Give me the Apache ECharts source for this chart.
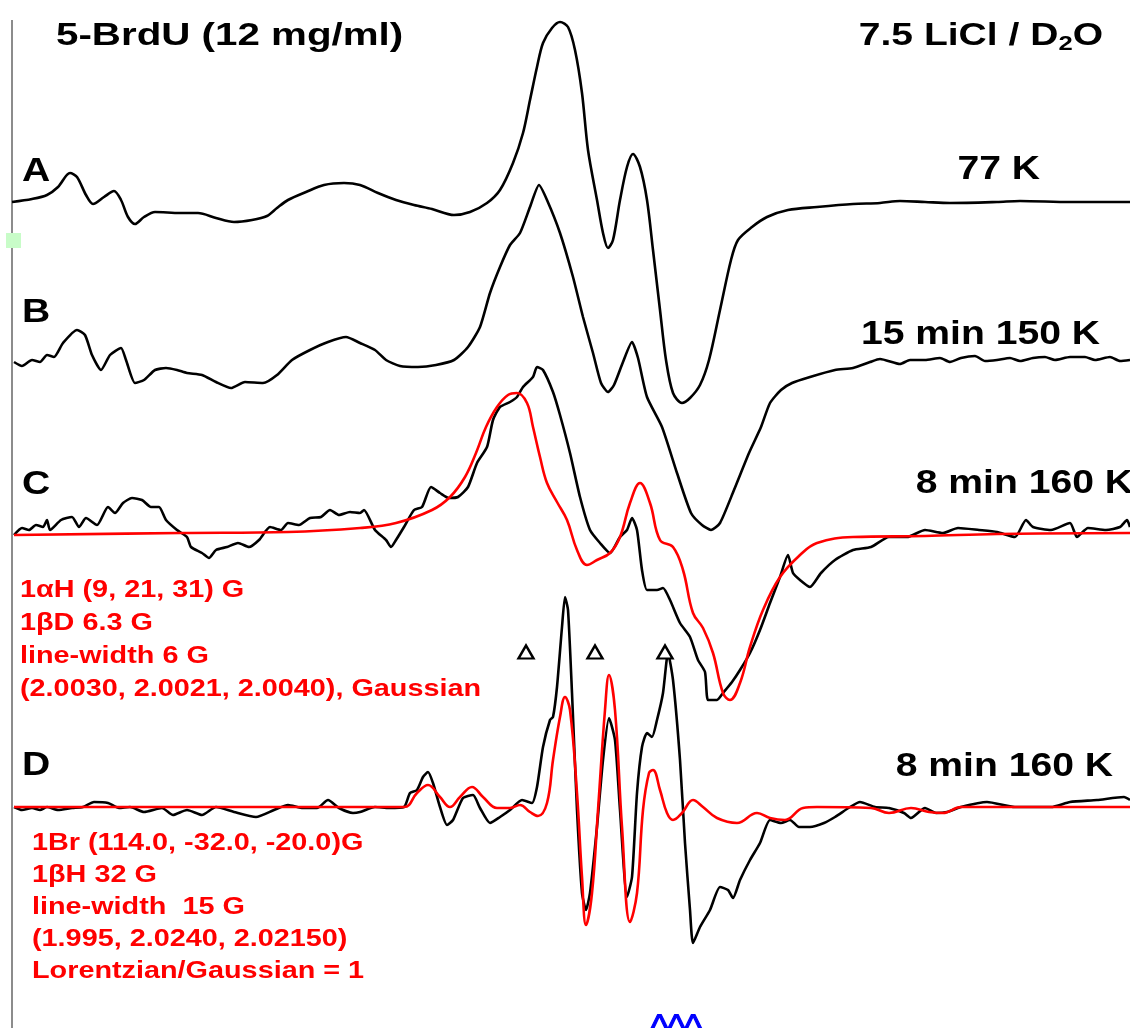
<!DOCTYPE html>
<html>
<head>
<meta charset="utf-8">
<script src="https://cdn.jsdelivr.net/npm/echarts@6/dist/echarts.min.js"></script>
<style>
    html, body {margin: 0; padding: 0; background: #fff;}
    #spectra_chart {width: 1130px; height: 1028px;}
</style>
</head>
<body>
<div id="spectra_chart"></div>
<script>
// field position (arb.) / signal above each spectrum's own baseline
var traceA = [[12,0],[32,3],[47,7],[58,15],[70,29],[77,25],[86,7],[93,-2],[104,5],[114,11],[121,2],[128,-15],[135,-22],[144,-15],[155,-10],[180,-11],[198,-11],[216,-16],[234,-20],[252,-18],[267,-14],[277,-6],[288,2],[306,10],[324,17],[344,19],[360,17],[378,9],[396,2],[414,-3],[432,-7],[454,-13],[470,-10],[487,-1],[500,12],[513,39],[523,69],[530,102],[537,135],[543,159],[552,174],[560,180],[568,175],[575,152],[582,109],[588,52],[597,2],[603,-31],[608,-46],[613,-38],[620,2],[627,35],[633,48],[640,35],[647,2],[653,-48],[660,-108],[666,-158],[673,-191],[682,-201],[690,-196],[700,-183],[709,-158],[720,-108],[731,-58],[738,-38],[752,-25],[767,-15],[788,-8],[817,-5],[853,-2],[880,-1],[900,1],[925,0],[950,-1],[997,0],[1020,1],[1070,0],[1100,0],[1130,0]];
var traceB = [[14,-2],[22,-6],[32,0],[40,-2],[47,5],[54,3],[63,17],[77,30],[85,25],[92,5],[101,-10],[110,5],[121,12],[126,0],[135,-23],[144,-20],[155,-10],[166,-8],[177,-10],[187,-13],[202,-15],[216,-22],[231,-28],[245,-22],[263,-23],[277,-15],[292,0],[310,10],[328,18],[346,23],[360,17],[375,10],[386,0],[400,-6],[418,-7],[436,-5],[454,0],[468,13],[480,33],[490,67],[500,93],[510,115],[520,127],[530,153],[539,175],[547,160],[560,127],[573,83],[583,43],[593,7],[601,-23],[608,-32],[614,-25],[623,-2],[632,18],[638,2],[647,-37],[662,-67],[677,-113],[691,-153],[702,-165],[711,-170],[720,-163],[734,-130],[749,-93],[761,-67],[770,-43],[781,-30],[792,-23],[810,-17],[835,-10],[853,-8],[870,-2],[880,1],[900,-4],[910,0],[925,0],[940,2],[950,-2],[961,2],[975,4],[985,-1],[997,0],[1010,2],[1020,-1],[1033,2],[1045,3],[1055,0],[1070,3],[1085,3],[1095,0],[1110,3],[1120,-1],[1130,0]];
var traceC = [[14,0],[22,7],[29,5],[36,10],[43,8],[47,15],[50,5],[61,15],[72,18],[79,8],[86,17],[97,10],[108,28],[115,22],[123,32],[132,37],[142,35],[151,28],[159,28],[166,15],[177,5],[187,-2],[191,-12],[202,-18],[209,-23],[216,-15],[227,-12],[238,-8],[249,-12],[259,-5],[270,8],[281,5],[288,12],[299,10],[310,17],[321,18],[330,25],[339,20],[350,23],[360,22],[364,25],[375,5],[386,-5],[391,-12],[396,-5],[404,8],[414,25],[422,28],[431,48],[440,42],[449,37],[458,38],[468,48],[477,72],[487,88],[493,115],[500,128],[510,133],[517,138],[523,148],[533,158],[537,168],[543,165],[553,143],[560,120],[570,82],[580,38],[590,5],[600,-8],[610,-18],[620,-2],[627,5],[632,17],[637,5],[642,-35],[647,-55],[657,-55],[663,-53],[670,-65],[680,-88],[690,-102],[698,-125],[705,-137],[708,-165],[717,-165],[723,-158],[732,-147],[740,-135],[750,-118],[760,-95],[770,-68],[780,-42],[788,-20],[793,-38],[800,-45],[810,-52],[821,-38],[835,-25],[853,-15],[871,-12],[889,-2],[907,-2],[925,5],[943,2],[958,7],[979,5],[997,3],[1015,-2],[1026,15],[1033,8],[1051,5],[1070,12],[1077,-2],[1088,7],[1106,5],[1120,8],[1127,15],[1130,8]];
var fitC = [[14,0],[180,2],[288,3],[360,7],[396,12],[432,25],[450,38],[465,58],[476,82],[486,108],[497,128],[508,140],[517,142],[527,132],[533,108],[540,78],[547,52],[557,33],[567,15],[577,-15],[587,-30],[597,-25],[610,-18],[620,-2],[630,32],[640,52],[650,32],[660,-5],[673,-12],[683,-35],[693,-78],[703,-93],[713,-118],[723,-158],[730,-165],[740,-148],[750,-112],[763,-75],[780,-42],[800,-20],[817,-8],[853,-2],[925,-1],[997,1],[1130,2]];
var traceD = [[14,0],[22,-3],[32,-1],[40,-3],[47,0],[58,-3],[72,-1],[83,0],[94,5],[108,4],[119,-1],[130,0],[144,-5],[162,-1],[173,-8],[187,-3],[202,-8],[216,0],[234,-5],[256,-10],[274,-3],[288,2],[303,-1],[317,-1],[328,7],[339,-1],[353,-6],[360,-5],[375,0],[389,-1],[404,0],[410,14],[417,17],[423,30],[428,35],[433,24],[440,0],[447,-18],[453,-13],[463,9],[473,12],[480,-1],[490,-16],[500,-10],[510,-3],[522,7],[532,4],[537,20],[543,60],[550,87],[553,90],[557,120],[562,180],[565,210],[568,197],[572,114],[577,-3],[582,-86],[586,-103],[590,-86],[597,-20],[603,47],[609,89],[615,67],[620,-3],[627,-90],[632,-70],[637,14],[642,60],[647,74],[652,70],[657,87],[663,114],[668,154],[673,127],[680,47],[685,-36],[690,-103],[693,-136],[700,-120],[710,-103],[720,-80],[728,-83],[733,-91],[740,-73],[750,-53],[760,-36],[770,-13],[781,-16],[790,-13],[799,-20],[810,-20],[824,-16],[835,-10],[850,0],[860,5],[875,0],[889,-1],[904,-6],[911,-11],[925,-1],[936,-6],[947,-5],[961,0],[987,5],[1015,0],[1051,0],[1070,5],[1097,7],[1124,10],[1130,7]];
var fitD = [[14,0],[404,0],[417,14],[428,22],[440,10],[450,0],[460,10],[472,20],[483,10],[497,-1],[510,-1],[520,2],[530,-5],[538,-9],[547,4],[553,47],[560,90],[565,110],[570,97],[577,14],[582,-70],[586,-118],[592,-86],[598,-3],[605,97],[609,132],[615,97],[622,-20],[630,-115],[637,-86],[643,-3],[649,34],[653,37],[660,17],[667,-6],[673,-13],[682,-6],[693,7],[703,0],[717,-11],[737,-16],[757,-6],[770,-11],[785,-13],[803,-1],[817,0],[871,-1],[889,-6],[911,-1],[929,-5],[943,-6],[961,0],[1130,0]];
var markD = [526, 595, 665];
var markHeight = 155;

// vertical offsets of the stacked spectra
var offsets = {A: 826, B: 668, C: 493, D: 221};

var blackLabels = [
    {text: 'A', x: 22, y: 172, align: 'left'},
    {text: '77 K', x: 1040, y: 170, align: 'right'},
    {text: 'B', x: 22, y: 313, align: 'left'},
    {text: '15 min 150 K', x: 1100, y: 335, align: 'right'},
    {text: 'C', x: 22, y: 485, align: 'left'},
    {text: '8 min 160 K', x: 1133, y: 484, align: 'right'},
    {text: 'D', x: 22, y: 766, align: 'left'},
    {text: '8 min 160 K', x: 1113, y: 767, align: 'right'}
];
var fitTextC = ['1\u03b1H (9, 21, 31) G', '1\u03b2D 6.3 G', 'line-width 6 G', '(2.0030, 2.0021, 2.0040), Gaussian'];
var fitTextD = ['1Br (114.0, -32.0, -20.0)G', '1\u03b2H 32 G', 'line-width  15 G', '(1.995, 2.0240, 2.02150)', 'Lorentzian/Gaussian = 1'];

var FONT = '"Liberation Sans", Arial, sans-serif';

function shift(trace, off) {
    return trace.map(function (p) {
        return [p[0], off + p[1]];
    });
}

function lineSeries(name, trace, off, color, smooth) {
    return {
        name: name,
        type: 'line',
        data: shift(trace, off),
        showSymbol: false,
        smooth: smooth,
        silent: true,
        animation: false,
        lineStyle: {color: color, width: 2.6},
        z: color === 'red' ? 3 : 2
    };
}

var graphics = [
    //left frame line + small green marker
    {type: 'rect', shape: {x: 11, y: 20, width: 2, height: 1008}, style: {fill: '#8c8c8c'}},
    {type: 'rect', shape: {x: 6, y: 233, width: 15, height: 15}, style: {fill: '#c8fcc8'}},
    {
        type: 'text', x: 56, y: 36, scaleX: 1.26,
        style: {text: '5-BrdU (12 mg/ml)', fontSize: 32, fontWeight: 'bold', fontFamily: FONT, fill: '#000', verticalAlign: 'middle'}
    },
    {
        type: 'text', x: 1103, y: 36, scaleX: 1.22,
        style: {
            text: '7.5 LiCl / D{sub|2}O', fontSize: 32, fontWeight: 'bold', fontFamily: FONT, fill: '#000',
            align: 'right', verticalAlign: 'middle',
            rich: {sub: {fontSize: 21, fontWeight: 'bold', fontFamily: FONT, padding: [16, 0, 0, 0]}}
        }
    },
    {
        type: 'text', x: 651, y: 1012,
        style: {text: '^^^', fontSize: 36, fontFamily: FONT, fill: '#0000ff', stroke: '#0000ff', lineWidth: 1.2, verticalAlign: 'top'}
    }
];
blackLabels.forEach(function (l) {
    graphics.push({
        type: 'text', x: l.x, y: l.y, scaleX: 1.15,
        style: {text: l.text, fontSize: 34, fontWeight: 'bold', fontFamily: FONT, fill: '#000', align: l.align, verticalAlign: 'middle'}
    });
});
fitTextC.forEach(function (t, i) {
    graphics.push({
        type: 'text', x: 20, y: 590 + i * 33, scaleX: 1.2,
        style: {text: t, fontSize: 24, fontWeight: 'bold', fontFamily: FONT, fill: '#ff0000', verticalAlign: 'middle'}
    });
});
fitTextD.forEach(function (t, i) {
    graphics.push({
        type: 'text', x: 32, y: 843 + i * 32, scaleX: 1.2,
        style: {text: t, fontSize: 24, fontWeight: 'bold', fontFamily: FONT, fill: '#ff0000', verticalAlign: 'middle'}
    });
});

var chart = echarts.init(document.getElementById('spectra_chart'), null, {renderer: 'canvas'});
chart.setOption({
    backgroundColor: '#fff',
    animation: false,
    grid: {left: 0, right: 0, top: 0, bottom: 0},
    xAxis: {type: 'value', min: 0, max: 1130, show: false},
    yAxis: {type: 'value', min: 0, max: 1028, show: false},
    graphic: graphics,
    series: [
        lineSeries('A', traceA, offsets.A, '#000', 0.3),
        lineSeries('B', traceB, offsets.B, '#000', 0.2),
        lineSeries('C', traceC, offsets.C, '#000', 0.2),
        lineSeries('C fit', fitC, offsets.C, 'red', 0.4),
        lineSeries('D', traceD, offsets.D, '#000', 0.2),
        lineSeries('D fit', fitD, offsets.D, 'red', 0.4),
        {
            name: 'markers',
            type: 'scatter',
            silent: true,
            animation: false,
            symbol: 'triangle',
            symbolSize: [15, 13],
            itemStyle: {color: '#fff', borderColor: '#000', borderWidth: 2.4, opacity: 1},
            data: markD.map(function (x) {
                return [x, offsets.D + markHeight];
            }),
            z: 4
        }
    ]
});
</script>
</body>
</html>
